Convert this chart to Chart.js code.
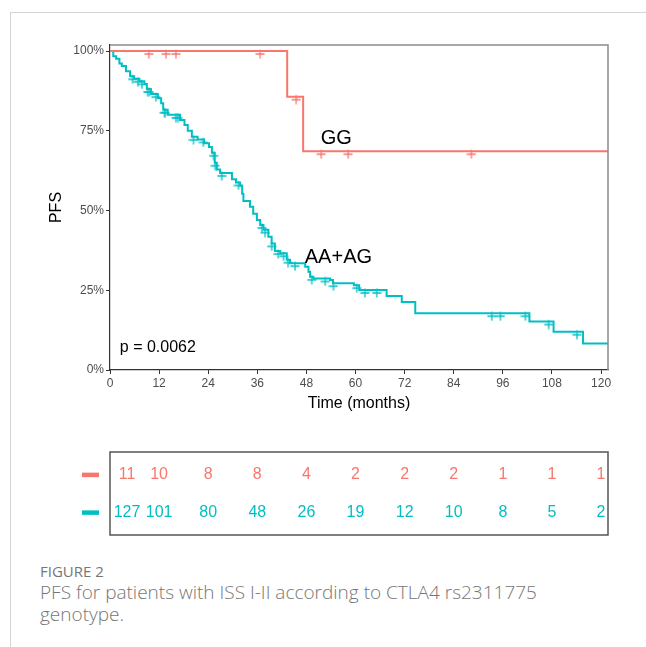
<!DOCTYPE html>
<html>
<head>
<meta charset="utf-8">
<script src="https://cdn.jsdelivr.net/npm/chart.js@4.4.1/dist/chart.umd.min.js"></script>
<style>
  body { margin: 0; background: #fff; width: 646px; height: 647px; overflow: hidden; position: relative; }
  #frame { position: absolute; left: 10px; top: 12px; right: 0; bottom: 0; border-top: 1px solid #d4d4d4; border-left: 1px solid #d4d4d4; }
  #km { position: absolute; left: 0; top: 0; }
  #risk { position: absolute; left: 0; top: 440px; }
  #caption { position: absolute; left: 40px; top: 561px; color: #767676; font-family: 'Open Sans', sans-serif; white-space: nowrap; }
  #caption .fig { font-size: 15px; line-height: 20px; }
  #caption .cap { font-size: 19px; line-height: 22px; font-weight: 300; }
</style>
</head>
<body>
<div id="frame"></div>
<canvas id="km" width="646" height="430"></canvas>
<canvas id="risk" width="646" height="110"></canvas>
<div id="caption">
  <div class="fig">FIGURE 2</div>
  <div class="cap">PFS for patients with ISS I-II according to CTLA4 rs2311775<br>genotype.</div>
</div>
<script>
// values
const xTicks = [0, 12, 24, 36, 48, 60, 72, 84, 96, 108, 120];
const yTicks = [0, 0.25, 0.5, 0.75, 1];

const ggTimes = [0, 43.3, 47.2, 121.7];
const ggSurv = [1, 0.857, 0.686, 0.686];
const ggCensorTimes = [9.5, 13.7, 16.1, 36.7, 45.5, 51.6, 58.2, 88.3];
const ggCensorSurv = [1, 1, 1, 1, 0.857, 0.686, 0.686, 0.686];

const aaTimes = [0, 0.8, 1.5, 2.3, 2.9, 3.9, 4.9, 5.9, 7.2, 8.4, 9.0, 10.0, 11.7, 12.5, 13.0, 14.1, 17.1, 18.2, 19.0, 20.0,
  21.4, 23.0, 24.2, 24.9, 25.6, 26.1, 26.9, 29.8, 30.8, 31.8, 32.3, 32.6, 34.2, 35.0, 35.9, 36.7, 37.5, 38.7, 39.5, 40.3,
  41.6, 43.2, 44.0, 47.7, 48.5, 48.9, 49.7, 53.8, 54.5, 59.6, 60.9, 67.6, 71.3, 74.6, 102.5, 108.4, 115.6, 121.7];
const aaSurv = [1, 0.984, 0.976, 0.961, 0.953, 0.937, 0.921, 0.913, 0.905, 0.897, 0.881, 0.865, 0.852, 0.836, 0.816, 0.800, 0.784, 0.768, 0.750, 0.731,
  0.723, 0.711, 0.699, 0.681, 0.650, 0.629, 0.618, 0.598, 0.588, 0.578, 0.553, 0.530, 0.512, 0.490, 0.470, 0.455, 0.440, 0.418, 0.397, 0.373,
  0.366, 0.346, 0.335, 0.324, 0.308, 0.292, 0.287, 0.282, 0.272, 0.266, 0.251, 0.232, 0.213, 0.178, 0.152, 0.120, 0.083, 0.083];
const aaCensorTimes = [5.5, 6.8, 7.8, 9.2, 9.6, 11.2, 13.3, 13.5, 16.1, 16.6, 20.4, 22.8, 25.3, 25.7, 27.3, 31.4, 37.1, 37.9, 39.5, 41.1,
  42.4, 43.5, 45.2, 49.3, 52.6, 54.6, 60.3, 62.3, 65.2, 93.3, 95.4, 101.5, 107.2, 114.1];
const aaCensorSurv = [0.921, 0.913, 0.905, 0.881, 0.881, 0.865, 0.816, 0.816, 0.800, 0.800, 0.731, 0.723, 0.681, 0.650, 0.618, 0.588, 0.455, 0.440, 0.397, 0.373,
  0.366, 0.346, 0.335, 0.292, 0.287, 0.272, 0.266, 0.251, 0.251, 0.178, 0.178, 0.178, 0.152, 0.120];

const riskTimes = [0, 12, 24, 36, 48, 60, 72, 84, 96, 108, 120];
const riskGG = [11, 10, 8, 8, 4, 2, 2, 2, 1, 1, 1];
const riskAA = [127, 101, 80, 48, 26, 19, 12, 10, 8, 5, 2];

const GG_COLOR = '#F8766D';
const AA_COLOR = '#00BFC4';
const FONT = "'Liberation Sans', Arial, sans-serif";
const X_MAX = 121.7;

const pts = (xs, ys) => xs.map((x, i) => ({ x: x, y: ys[i] }));

// "+" censor mark, drawn a little below its point like the original
function plusMark(color) {
  const c = document.createElement('canvas');
  c.width = 10; c.height = 16;
  const g = c.getContext('2d');
  g.strokeStyle = color;
  g.lineWidth = 1.3;
  g.beginPath();
  g.moveTo(0.5, 11); g.lineTo(9.5, 11);
  g.moveTo(5, 6.5); g.lineTo(5, 15.5);
  g.stroke();
  return c;
}

const kmDecor = {
  id: 'kmDecor',
  afterDraw(chart) {
    const { ctx, chartArea: a, scales: { x, y } } = chart;
    ctx.save();
    // top / right frame
    ctx.strokeStyle = '#8c8c8c';
    ctx.lineWidth = 1.5;
    ctx.beginPath();
    ctx.moveTo(a.left, a.top); ctx.lineTo(a.right, a.top); ctx.lineTo(a.right, a.bottom);
    ctx.stroke();
    ctx.fillStyle = '#000';
    ctx.font = '20px ' + FONT;
    ctx.textAlign = 'left';
    ctx.textBaseline = 'alphabetic';
    ctx.fillText('GG', x.getPixelForValue(51.5), y.getPixelForValue(0.71));
    ctx.fillText('AA+AG', x.getPixelForValue(47.6), y.getPixelForValue(0.335));
    ctx.font = '16px ' + FONT;
    ctx.fillText('p = 0.0062', x.getPixelForValue(2.4), y.getPixelForValue(0.058));
    // axis titles
    ctx.font = '16px ' + FONT;
    ctx.textAlign = 'center';
    ctx.textBaseline = 'middle';
    ctx.fillText('Time (months)', (a.left + a.right) / 2, 404);
    ctx.translate(57, (a.top + a.bottom) / 2);
    ctx.rotate(-Math.PI / 2);
    ctx.fillText('PFS', 0, 0);
    ctx.restore();
  }
};

new Chart(document.getElementById('km'), {
  type: 'line',
  data: {
    datasets: [
      { data: pts(ggTimes, ggSurv), borderColor: GG_COLOR, borderWidth: 2, stepped: true, pointRadius: 0, fill: false },
      { data: pts(aaTimes, aaSurv), borderColor: AA_COLOR, borderWidth: 2, stepped: true, pointRadius: 0, fill: false },
      { data: pts(ggCensorTimes, ggCensorSurv), showLine: false, pointStyle: plusMark(GG_COLOR), pointRadius: 5 },
      { data: pts(aaCensorTimes, aaCensorSurv), showLine: false, pointStyle: plusMark(AA_COLOR), pointRadius: 5 }
    ]
  },
  options: {
    responsive: false,
    animation: false,
    layout: { padding: { left: 0, right: 38, top: 45, bottom: 0 } },
    plugins: { legend: { display: false }, tooltip: { enabled: false } },
    scales: {
      x: {
        type: 'linear', min: 0, max: X_MAX,
        afterBuildTicks: s => { s.ticks = xTicks.map(v => ({ value: v })); },
        afterFit: s => { s.height = 60; },
        grid: { drawOnChartArea: false, drawTicks: true, tickLength: 4, color: '#333' },
        border: { color: '#333', width: 1.2 },
        ticks: { color: '#4d4d4d', font: { size: 12, family: FONT }, padding: 2, maxRotation: 0, autoSkip: false }
      },
      y: {
        type: 'linear', min: 0, max: 1.019,
        afterBuildTicks: s => { s.ticks = yTicks.map(v => ({ value: v })); },
        afterFit: s => { s.width = 110; },
        grid: { drawOnChartArea: false, drawTicks: true, tickLength: 4, color: '#333' },
        border: { color: '#333', width: 1.2 },
        ticks: { color: '#4d4d4d', font: { size: 12, family: FONT }, padding: 2, callback: v => Math.round(v * 100) + '%' }
      }
    }
  },
  plugins: [kmDecor]
});

// number at risk table
const riskDecor = {
  id: 'riskDecor',
  afterDraw(chart) {
    const { ctx, chartArea: a, scales: { x, y } } = chart;
    ctx.save();
    ctx.strokeStyle = '#555';
    ctx.lineWidth = 1.5;
    ctx.strokeRect(a.left, a.top, a.right - a.left, a.bottom - a.top);
    ctx.font = '16px ' + FONT;
    ctx.textAlign = 'center';
    ctx.textBaseline = 'middle';
    const rows = [[riskGG, GG_COLOR, 1], [riskAA, AA_COLOR, 0]];
    rows.forEach(([vals, col, lvl]) => {
      const py = y.getPixelForValue(lvl);
      ctx.fillStyle = col;
      vals.forEach((v, i) => {
        let px = x.getPixelForValue(riskTimes[i]);
        if (i === 0) px += 17;
        ctx.fillText(String(v), px, py);
      });
      ctx.fillRect(82, py - 2, 17, 4.5);
    });
    ctx.restore();
  }
};

new Chart(document.getElementById('risk'), {
  type: 'scatter',
  data: { datasets: [] },
  options: {
    responsive: false,
    animation: false,
    layout: { padding: { left: 110, right: 38, top: 12, bottom: 15 } },
    plugins: { legend: { display: false }, tooltip: { enabled: false } },
    scales: {
      x: { type: 'linear', min: 0, max: X_MAX, display: false },
      y: { type: 'linear', min: -0.6, max: 1.6, display: false }
    }
  },
  plugins: [riskDecor]
});
</script>
</body>
</html>
